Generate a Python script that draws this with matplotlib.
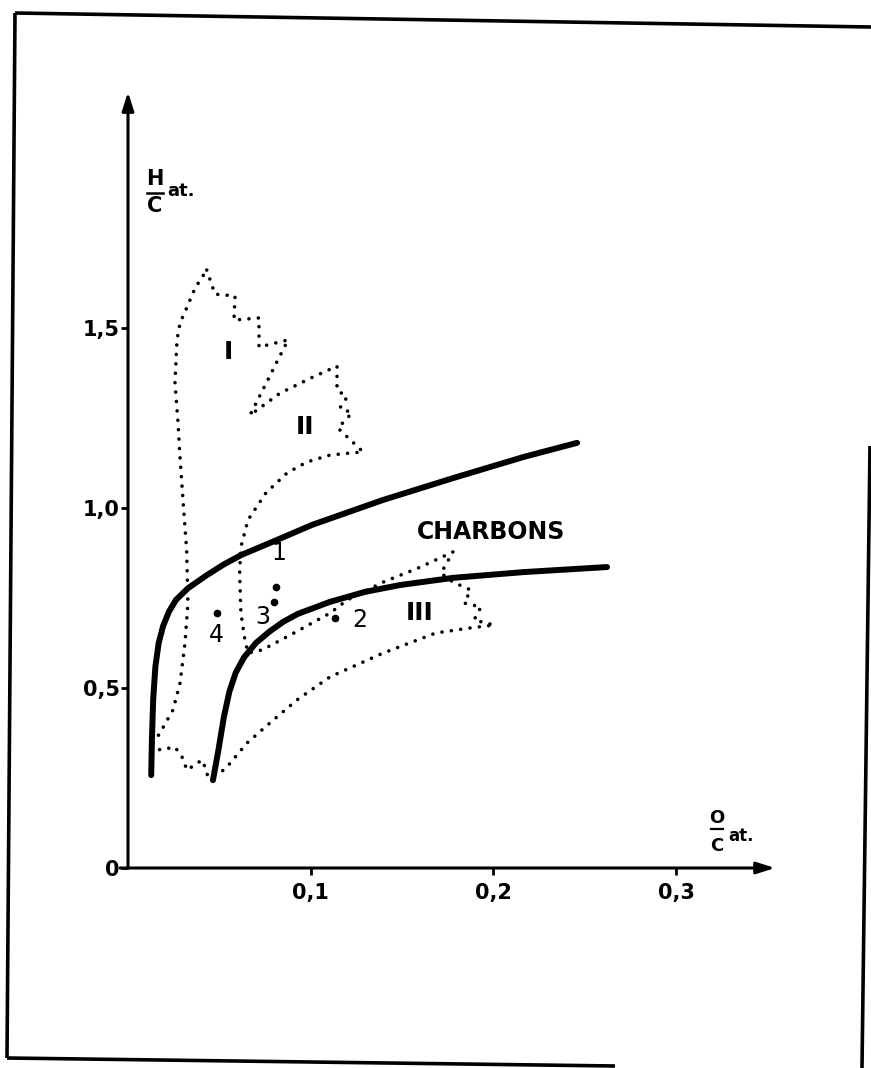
import matplotlib
matplotlib.use("Agg")
import matplotlib.pyplot as plt
from matplotlib.lines import Line2D

# ---------------- data ----------------
# upper limit curve of the "charbons" band (O/C, H/C)
upper_x = [0.0127, 0.0131, 0.0138, 0.0150, 0.0168, 0.0192, 0.0224, 0.0263,
           0.0328, 0.0427, 0.0520, 0.0618, 0.0814, 0.1007, 0.1394, 0.1779,
           0.2167, 0.2458]
upper_y = [0.258, 0.360, 0.470, 0.560, 0.625, 0.672, 0.712, 0.745,
           0.777, 0.812, 0.842, 0.869, 0.911, 0.953, 1.022, 1.083,
           1.142, 1.181]

# lower limit curve of the "charbons" band
lower_x = [0.0465, 0.0495, 0.0525, 0.0555, 0.0590, 0.0635, 0.0700, 0.0775,
           0.0850, 0.0930, 0.1104, 0.1297, 0.1489, 0.1779, 0.2167, 0.2622]
lower_y = [0.244, 0.328, 0.420, 0.490, 0.543, 0.585, 0.625, 0.657,
           0.684, 0.706, 0.739, 0.767, 0.786, 0.806, 0.822, 0.836]

# dotted envelope of kerogen types I, II, III (closed contour)
env_x = [0.0431, 0.0476, 0.0586, 0.0580, 0.0717, 0.0717, 0.0876, 0.0668,
         0.0832, 0.1013, 0.1144, 0.1144, 0.1199, 0.1160, 0.1226, 0.1149,
         0.1286, 0.1106, 0.0980, 0.0870, 0.0755, 0.0657, 0.0618, 0.0611,
         0.0618, 0.0640, 0.0657, 0.0736, 0.0909, 0.1106, 0.1199, 0.1396,
         0.1587, 0.1779, 0.1713, 0.1779, 0.1877, 0.1839, 0.1932, 0.1894,
         0.2003, 0.1877, 0.1686, 0.1396, 0.1106, 0.0925, 0.0777, 0.0651,
         0.0542, 0.0504, 0.0438, 0.0421, 0.0405, 0.0323, 0.0296, 0.0257,
         0.0175, 0.0137, 0.0175, 0.0246, 0.0285, 0.0312, 0.0328, 0.0321,
         0.0301, 0.0282, 0.0274, 0.0257, 0.0268, 0.0285, 0.0323, 0.0367,
         0.0431]
env_y = [1.661, 1.594, 1.589, 1.522, 1.528, 1.447, 1.467, 1.258,
         1.319, 1.364, 1.394, 1.328, 1.308, 1.278, 1.264, 1.222,
         1.156, 1.147, 1.128, 1.097, 1.042, 0.967, 0.892, 0.819,
         0.708, 0.633, 0.597, 0.606, 0.653, 0.708, 0.744, 0.794,
         0.833, 0.878, 0.819, 0.794, 0.772, 0.736, 0.725, 0.689,
         0.675, 0.667, 0.653, 0.597, 0.531, 0.467, 0.403, 0.347,
         0.281, 0.264, 0.253, 0.281, 0.300, 0.272, 0.308, 0.336,
         0.328, 0.347, 0.375, 0.439, 0.514, 0.625, 0.736, 0.883,
         1.022, 1.161, 1.236, 1.347, 1.467, 1.514, 1.558, 1.611,
         1.661]

# individual samples
pts_x = [0.0486, 0.0808, 0.0799, 0.1133]
pts_y = [0.708, 0.781, 0.739, 0.694]

# sample numbers
num_labels = ["4", "3", "1", "2"]
num_x = [0.0485, 0.0739, 0.0826, 0.1270]
num_y = [0.647, 0.697, 0.875, 0.689]

# kerogen type labels
type_labels = ["I", "II", "III"]
type_x = [0.0547, 0.0969, 0.1598]
type_y = [1.433, 1.225, 0.708]

yticks = [0.0, 0.5, 1.0, 1.5]
ytick_labels = ["0", "0,5", "1,0", "1,5"]
xticks = [0.1, 0.2, 0.3]
xtick_labels = ["0,1", "0,2", "0,3"]

# ---------------- figure ----------------
W, H = 871, 1068
fig = plt.figure(figsize=(W / 100, H / 100), dpi=100)
fig.patch.set_facecolor("white")

FAM = ["Liberation Sans Narrow", "DejaVu Sans"]
plt.rcParams["font.family"] = FAM

x0, x1 = 128, 775      # pixel extents of x axis
y0, y1 = 868, 92       # pixel extents of y axis
ax = fig.add_axes([x0 / W, 1 - y0 / H, (x1 - x0) / W, (y0 - y1) / H])
ax.set_xlim(0, (x1 - x0) / 1827.0)
ax.set_ylim(0, (y0 - y1) / 360.0)
ax.set_facecolor("none")
for s in ax.spines.values():
    s.set_visible(False)

# axes with arrows
ax.annotate("", xy=(0, 1), xytext=(0, 0), xycoords="axes fraction",
            arrowprops=dict(arrowstyle="-|>,head_length=1.1,head_width=0.35",
                            lw=2.2, color="black", shrinkA=0, shrinkB=0))
ax.annotate("", xy=(1, 0), xytext=(-0.012, 0), xycoords="axes fraction",
            arrowprops=dict(arrowstyle="-|>,head_length=1.1,head_width=0.35",
                            lw=2.2, color="black", shrinkA=0, shrinkB=0))

ax.set_yticks(yticks)
ax.set_yticklabels(ytick_labels, fontsize=15, fontweight="bold", family=FAM)
ax.set_xticks(xticks)
ax.set_xticklabels(xtick_labels, fontsize=15, fontweight="bold", family=FAM)
ax.tick_params(axis="y", direction="out", length=5, width=2, pad=1)
ax.tick_params(axis="x", direction="out", length=5, width=2, pad=6)

# curves
ax.plot(upper_x, upper_y, color="black", lw=4.3, solid_capstyle="round",
        solid_joinstyle="round")
ax.plot(lower_x, lower_y, color="black", lw=4.3, solid_capstyle="round",
        solid_joinstyle="round")
ax.plot(env_x, env_y, color="black", lw=2.6, linestyle=(0, (0.01, 2.6)),
        dash_capstyle="round")

ax.plot(pts_x, pts_y, "o", color="black", ms=4.5)

for t, x, y in zip(num_labels, num_x, num_y):
    ax.text(x, y, t, fontsize=17, ha="center", va="center", family=FAM)
for t, x, y in zip(type_labels, type_x, type_y):
    ax.text(x, y, t, fontsize=18, fontweight="bold", ha="center",
            va="center", family=FAM)
ax.text(0.1987, 0.933, "CHARBONS", fontsize=17, fontweight="bold",
        ha="center", va="center", family=FAM)

# axis titles H/C at. and O/C at.
ax.text(0.0148, 1.915, "H", fontsize=15, fontweight="bold", ha="center",
        va="center", family=FAM, clip_on=False)
ax.plot([0.0105, 0.0192], [1.876, 1.876], color="black", lw=1.8, clip_on=False)
ax.text(0.0148, 1.838, "C", fontsize=15, fontweight="bold", ha="center",
        va="center", family=FAM, clip_on=False)
ax.text(0.0215, 1.880, "at.", fontsize=13, fontweight="bold", ha="left",
        va="center", family=FAM, clip_on=False)

ax.text(0.3224, 0.140, "O", fontsize=13, fontweight="bold", ha="center",
        va="center", family=FAM, clip_on=False)
ax.plot([0.3190, 0.3258], [0.108, 0.108], color="black", lw=1.6, clip_on=False)
ax.text(0.3224, 0.060, "C", fontsize=13, fontweight="bold", ha="center",
        va="center", family=FAM, clip_on=False)
ax.text(0.3285, 0.088, "at.", fontsize=12, fontweight="bold", ha="left",
        va="center", family=FAM, clip_on=False)

# page frame (slightly skewed scan border)
def fline(px, py, lw=2.6):
    fig.add_artist(Line2D([p / W for p in px], [1 - q / H for q in py],
                          transform=fig.transFigure, color="black", lw=lw,
                          solid_capstyle="butt"))

fline([15, 871], [13, 27])
fline([15, 7], [13, 1058])
fline([7, 615], [1058, 1066])
fline([870, 862], [446, 1068])

fig.savefig("out.png", dpi=100, facecolor="white")
